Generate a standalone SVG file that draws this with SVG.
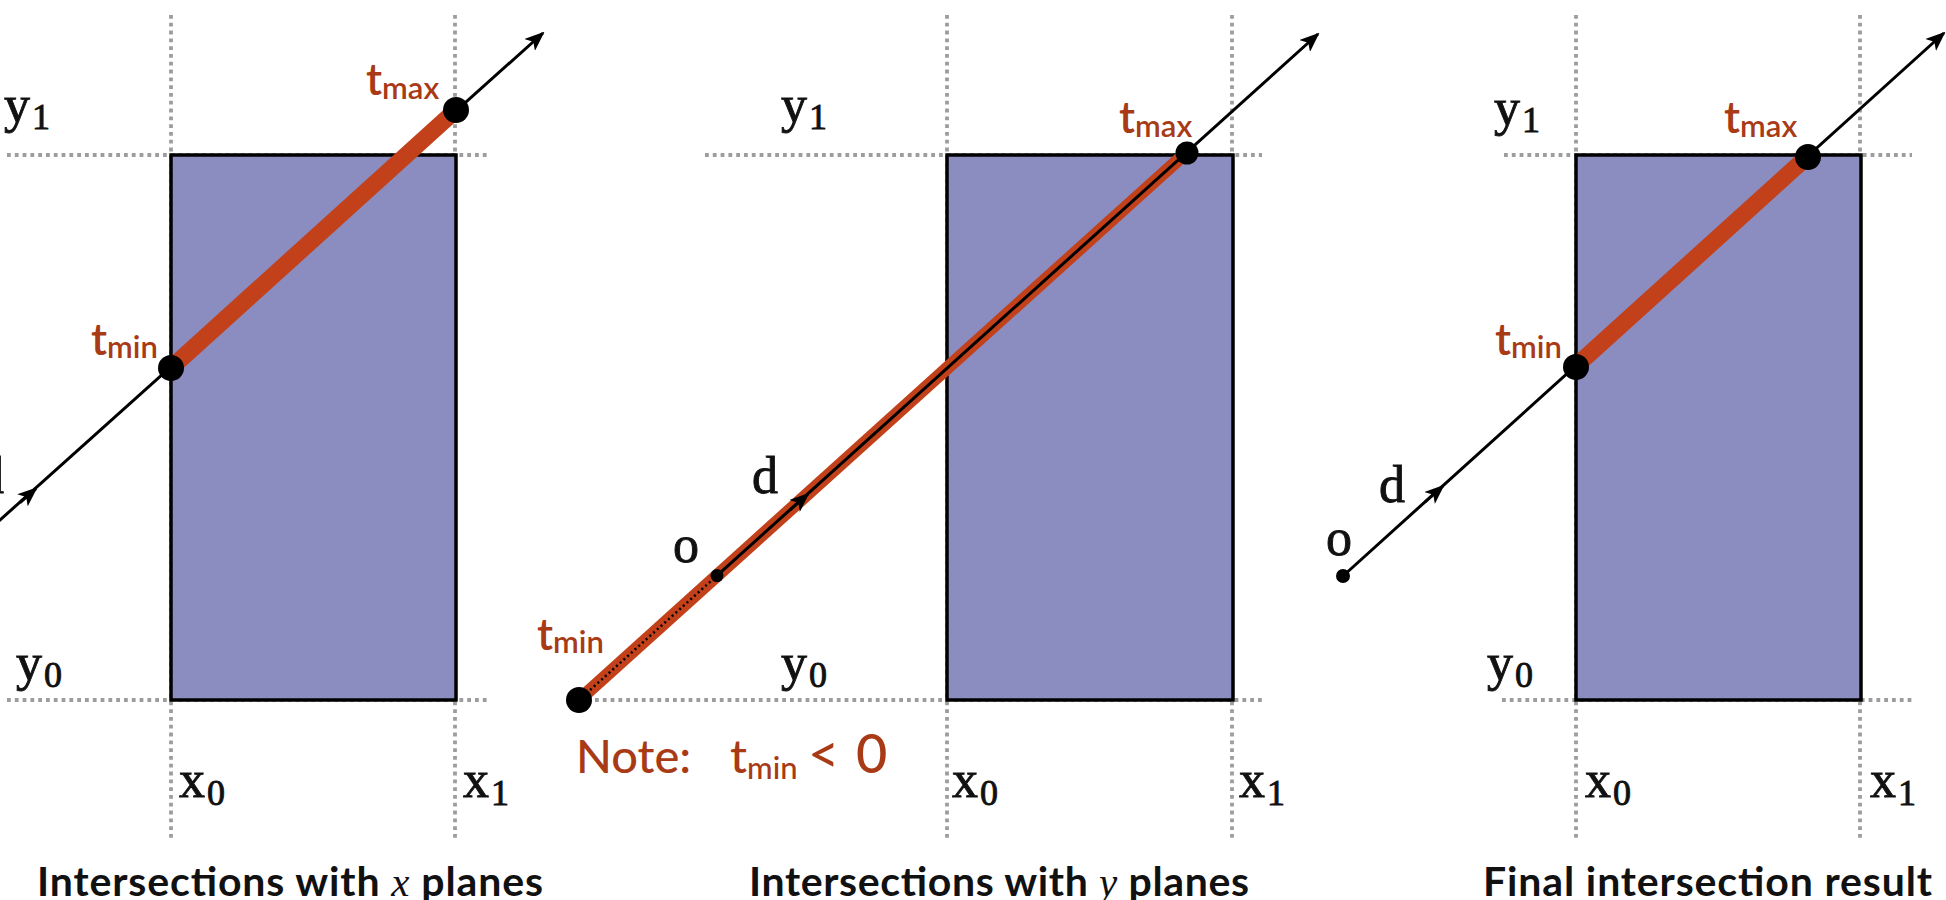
<svg xmlns="http://www.w3.org/2000/svg" width="1946" height="900" viewBox="0 0 1946 900">
<defs>
<style>
.bg{fill:#ffffff}
.dot{stroke:#9d9d9d;stroke-width:3.8;stroke-dasharray:3.8 4;fill:none}
.box{fill:#8B8CBF;stroke:#000;stroke-width:3.5}
.ray{stroke:#000;stroke-width:3;fill:none}
.seg{stroke:#C2411A;stroke-linecap:butt;fill:none}
.pt{fill:#000}
.m{font-family:"Liberation Serif","DejaVu Serif",serif;font-size:52px;fill:#111;stroke:#111;stroke-width:0.9}
.m tspan{font-size:36px}
.t{font-family:Lato,"Open Sans","Liberation Sans",sans-serif;font-size:44px;font-weight:600;fill:#A83A16}
.t tspan.s{font-size:31px}
.note{font-family:Lato,"Open Sans","Liberation Sans",sans-serif;font-size:47px;font-weight:500;fill:#A83A16}
.note tspan.s{font-size:31px}
.note tspan.b{font-size:54px}
.title{font-family:Lato,"Open Sans","Liberation Sans",sans-serif;font-size:41px;font-weight:700;fill:#111}
.it{font-family:"Liberation Serif",serif;font-style:italic;font-weight:400}
</style>
<marker id="ah" viewBox="0 0 20 16" refX="18" refY="8" markerWidth="20" markerHeight="16" markerUnits="userSpaceOnUse" orient="auto">
<path d="M0,0 L20,8 L0,16 L5,8 Z" fill="#000"/>
</marker>
</defs>
<rect class="bg" x="0" y="0" width="1946" height="900"/>

<g id="guides">
<line class="dot" x1="171" y1="15" x2="171" y2="838"/>
<line class="dot" x1="455" y1="15" x2="455" y2="838"/>
<line class="dot" x1="7" y1="155" x2="489" y2="155"/>
<line class="dot" x1="7" y1="700" x2="489" y2="700"/>
<line class="dot" x1="947" y1="15" x2="947" y2="838"/>
<line class="dot" x1="1232" y1="15" x2="1232" y2="838"/>
<line class="dot" x1="705" y1="155" x2="1262" y2="155"/>
<line class="dot" x1="595" y1="700" x2="1262" y2="700"/>
<line class="dot" x1="1576" y1="15" x2="1576" y2="838"/>
<line class="dot" x1="1860" y1="15" x2="1860" y2="838"/>
<line class="dot" x1="1504" y1="155" x2="1912" y2="155"/>
<line class="dot" x1="1502" y1="700" x2="1912" y2="700"/>
</g>

<g id="box1"><rect class="box" x="171" y="155" width="285" height="545"/></g>
<g id="box2"><rect class="box" x="947" y="155" width="286" height="545"/></g>
<g id="box3"><rect class="box" x="1576" y="155" width="285" height="545"/></g>

<g id="connectors">
<!-- panel 1 -->
<line class="ray" x1="-10" y1="529" x2="543" y2="33" marker-end="url(#ah)"/>
<line class="ray" x1="20" y1="502.5" x2="36" y2="488.5" marker-end="url(#ah)"/>
<line class="seg" x1="171" y1="368" x2="456" y2="110" stroke-width="17"/>
<!-- panel 2 -->
<line class="seg" x1="579" y1="700" x2="1187" y2="152" stroke-width="13"/>
<line x1="579" y1="700" x2="717" y2="575.6" stroke="#000" stroke-width="2.5" stroke-dasharray="2 3"/>
<line class="ray" x1="717" y1="575.6" x2="1318" y2="34" marker-end="url(#ah)"/>
<line class="ray" x1="790" y1="510" x2="808" y2="494" marker-end="url(#ah)"/>
<!-- panel 3 -->
<line class="ray" x1="1343" y1="576" x2="1944" y2="33" marker-end="url(#ah)"/>
<line class="ray" x1="1425" y1="502" x2="1443" y2="486" marker-end="url(#ah)"/>
<line class="seg" x1="1576" y1="366" x2="1808" y2="156" stroke-width="17"/>
</g>

<g id="points">
<circle class="pt" cx="171" cy="368" r="13"/>
<circle class="pt" cx="456" cy="110" r="13"/>
<circle class="pt" cx="579" cy="700" r="13"/>
<circle class="pt" cx="1187" cy="153" r="11.5"/>
<circle class="pt" cx="717" cy="575.6" r="6.5"/>
<circle class="pt" cx="1576" cy="367" r="13"/>
<circle class="pt" cx="1808" cy="157" r="13"/>
<circle class="pt" cx="1343" cy="576" r="7"/>
</g>

<g id="labels1">
<text class="m" x="4" y="122">y<tspan dx="2" dy="7">1</tspan></text>
<text class="m" x="16" y="680">y<tspan dx="2" dy="7">0</tspan></text>
<text class="m" x="179" y="797">x<tspan dx="2" dy="8">0</tspan></text>
<text class="m" x="463" y="797">x<tspan dx="2" dy="8">1</tspan></text>
<text class="m" x="-22" y="493">d</text>
<text class="t" x="91" y="355">t<tspan class="s" dy="3">min</tspan></text>
<text class="t" x="366" y="95">t<tspan class="s" dy="4">max</tspan></text>
<text class="title" x="37" y="896" textLength="506" lengthAdjust="spacing">Intersections with <tspan class="it">x</tspan> planes</text>
</g>

<g id="labels2">
<text class="m" x="781" y="122">y<tspan dx="2" dy="7">1</tspan></text>
<text class="m" x="781" y="680">y<tspan dx="2" dy="7">0</tspan></text>
<text class="m" x="952" y="797">x<tspan dx="2" dy="8">0</tspan></text>
<text class="m" x="1239" y="797">x<tspan dx="2" dy="8">1</tspan></text>
<text class="m" x="673" y="562">o</text>
<text class="m" x="752" y="493">d</text>
<text class="t" x="537" y="650">t<tspan class="s" dy="3">min</tspan></text>
<text class="t" x="1119" y="133">t<tspan class="s" dy="4">max</tspan></text>
<text class="note" x="576" y="773">Note:<tspan x="730">t</tspan><tspan class="s" dy="6">min</tspan><tspan class="b" x="808" dy="-6">&lt;</tspan><tspan class="b" x="856">0</tspan></text>
<text class="title" x="749" y="896" textLength="500" lengthAdjust="spacing">Intersections with <tspan class="it">y</tspan> planes</text>
</g>

<g id="labels3">
<text class="m" x="1494" y="125">y<tspan dx="2" dy="7">1</tspan></text>
<text class="m" x="1487" y="680">y<tspan dx="2" dy="7">0</tspan></text>
<text class="m" x="1585" y="797">x<tspan dx="2" dy="8">0</tspan></text>
<text class="m" x="1870" y="797">x<tspan dx="2" dy="8">1</tspan></text>
<text class="m" x="1326" y="555">o</text>
<text class="m" x="1379" y="502">d</text>
<text class="t" x="1495" y="355">t<tspan class="s" dy="3">min</tspan></text>
<text class="t" x="1724" y="133">t<tspan class="s" dy="4">max</tspan></text>
<text class="title" x="1483" y="896" textLength="449" lengthAdjust="spacing">Final intersection result</text>
</g>
</svg>
